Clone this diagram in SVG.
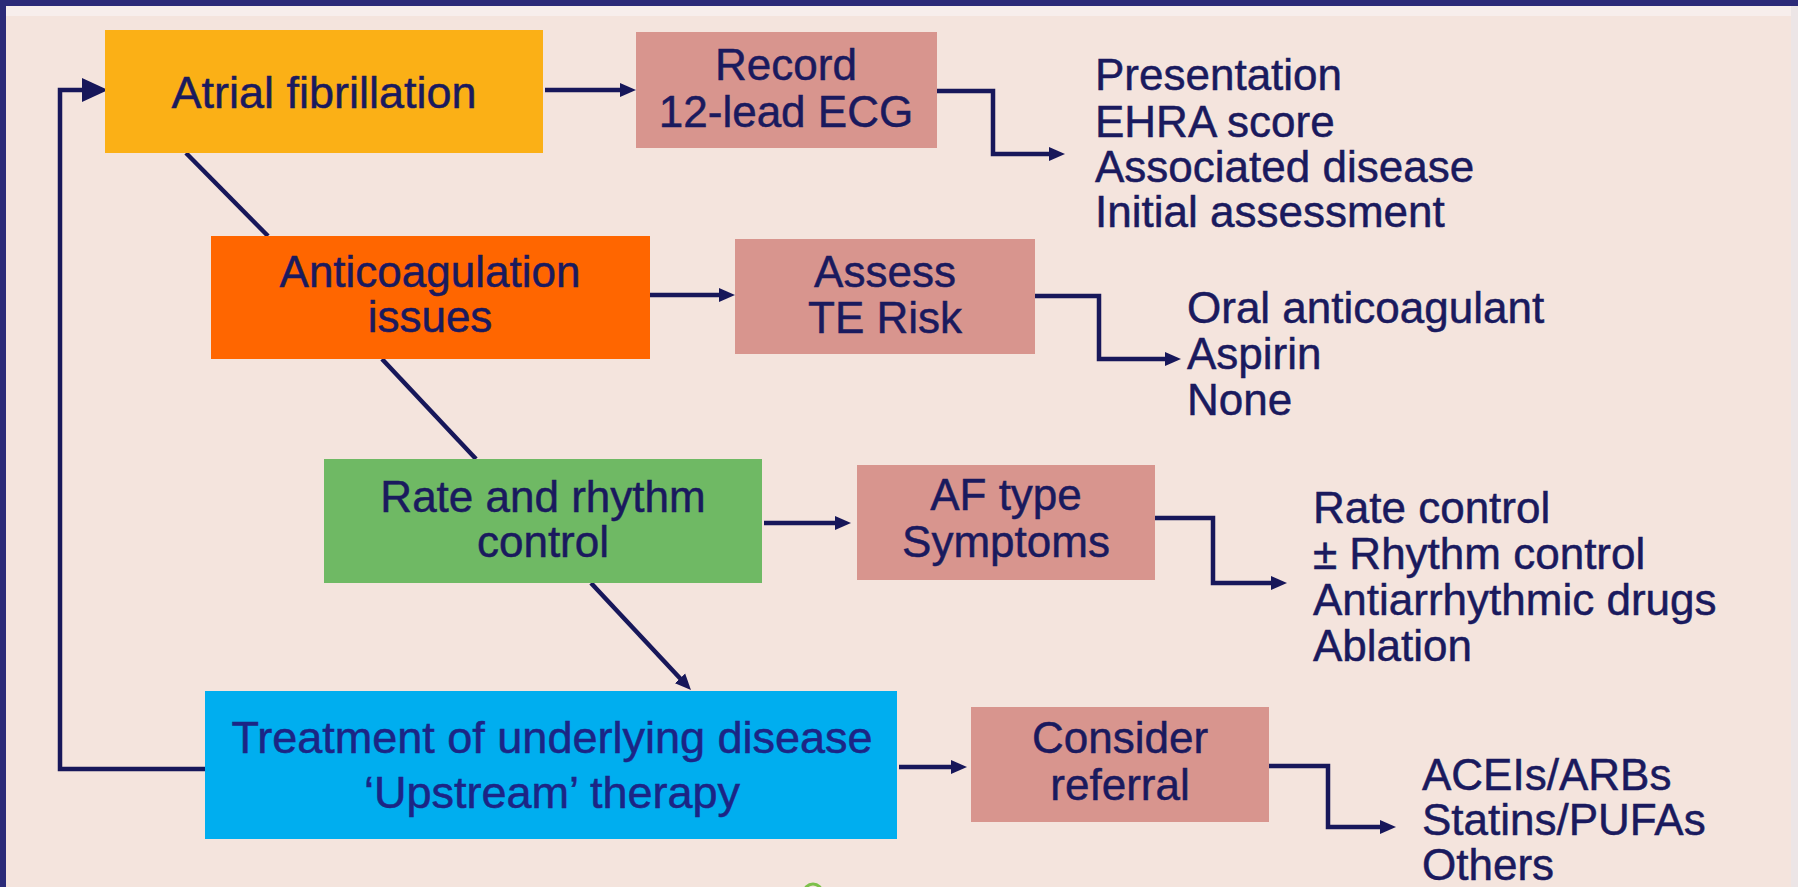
<svg xmlns="http://www.w3.org/2000/svg" width="1798" height="887" viewBox="0 0 1798 887">
<style>
.t{font-family:"Liberation Sans",Arial,sans-serif;font-size:44px;fill:#1a1a5e;stroke:#1a1a5e;stroke-width:0.5}
.c{text-anchor:middle}
.l{font-size:44px}
.blue{fill:#1c2585;stroke:#1c2585}
.ln{fill:none;stroke:#17175a;stroke-width:4.5}
</style>
<defs>
<marker id="ah" markerUnits="userSpaceOnUse" markerWidth="16" markerHeight="16" viewBox="0 0 16 16" refX="2" refY="8" orient="auto"><path d="M0,1 L16,8 L0,15 z" fill="#17175a"/></marker>
<marker id="ahb" markerUnits="userSpaceOnUse" markerWidth="26" markerHeight="26" viewBox="0 0 26 26" refX="2" refY="13" orient="auto"><path d="M0,1 L26,13 L0,25 z" fill="#17175a"/></marker>
</defs>
<rect x="0" y="0" width="1798" height="887" fill="#f4e4dd"/>
<rect x="6" y="6" width="1792" height="10" fill="#f7eeec"/>
<rect x="1791" y="6" width="7" height="881" fill="#ece5e6"/>
<rect x="0" y="0" width="1798" height="6" fill="#2b2a78"/>
<rect x="0" y="0" width="6" height="887" fill="#2b2a78"/>

<g id="connectors">
<path class="ln" d="M545,90 H622" marker-end="url(#ah)"/>
<path class="ln" d="M937,91 H993 V154 H1051" marker-end="url(#ah)"/>
<path class="ln" d="M650,295 H721" marker-end="url(#ah)"/>
<path class="ln" d="M1035,296 H1099 V359 H1167" marker-end="url(#ah)"/>
<path class="ln" d="M764,523 H837" marker-end="url(#ah)"/>
<path class="ln" d="M1155,518 H1213 V583 H1273" marker-end="url(#ah)"/>
<path class="ln" d="M899,767 H953" marker-end="url(#ah)"/>
<path class="ln" d="M1269,766 H1328 V827 H1382" marker-end="url(#ah)"/>
<path class="ln" d="M186,153 L268,236"/>
<path class="ln" d="M382,359 L476,459"/>
<path class="ln" d="M591,583 L681.4,679.8" marker-end="url(#ah)"/>
<path class="ln" d="M215,769 H60 V90 H84" marker-end="url(#ahb)"/>
</g>

<g id="atrial-fibrillation">
<rect x="105" y="30" width="438" height="123" fill="#fbb016"/>
<text class="t c" x="324" y="108" style="font-size:45px">Atrial fibrillation</text>
</g>
<g id="record-ecg">
<rect x="636" y="32" width="301" height="116" fill="#d8958e"/>
<text class="t c" x="786" y="80">Record</text>
<text class="t c" x="786" y="127">12-lead ECG</text>
</g>
<g id="ecg-outcomes">
<text class="t l" x="1095" y="90">Presentation</text>
<text class="t l" x="1095" y="137">EHRA score</text>
<text class="t l" x="1095" y="182">Associated disease</text>
<text class="t l" x="1095" y="227">Initial assessment</text>
</g>

<g id="anticoagulation">
<rect x="211" y="236" width="439" height="123" fill="#ff6600"/>
<text class="t c" x="430" y="287">Anticoagulation</text>
<text class="t c" x="430" y="332">issues</text>
</g>
<g id="assess-te-risk">
<rect x="735" y="239" width="300" height="115" fill="#d8958e"/>
<text class="t c" x="885" y="287">Assess</text>
<text class="t c" x="885" y="333">TE Risk</text>
</g>
<g id="te-outcomes">
<text class="t l" x="1187" y="323">Oral anticoagulant</text>
<text class="t l" x="1187" y="369">Aspirin</text>
<text class="t l" x="1187" y="415">None</text>
</g>

<g id="rate-rhythm">
<rect x="324" y="459" width="438" height="124" fill="#6fb964"/>
<text class="t c" x="543" y="512">Rate and rhythm</text>
<text class="t c" x="543" y="557">control</text>
</g>
<g id="af-type">
<rect x="857" y="465" width="298" height="115" fill="#d8958e"/>
<text class="t c" x="1006" y="510">AF type</text>
<text class="t c" x="1006" y="557">Symptoms</text>
</g>
<g id="rate-outcomes">
<text class="t l" x="1313" y="523">Rate control</text>
<text class="t l" x="1313" y="569">± Rhythm control</text>
<text class="t l" x="1313" y="615">Antiarrhythmic drugs</text>
<text class="t l" x="1313" y="661">Ablation</text>
</g>

<g id="treatment">
<rect x="205" y="691" width="692" height="148" fill="#00aeef"/>
<text class="t c blue" x="552" y="753" style="font-size:45px">Treatment of underlying disease</text>
<text class="t c blue" x="552" y="808" style="font-size:45px">‘Upstream’ therapy</text>
</g>
<g id="consider-referral">
<rect x="971" y="707" width="298" height="115" fill="#d8958e"/>
<text class="t c" x="1120" y="753">Consider</text>
<text class="t c" x="1120" y="800">referral</text>
</g>
<g id="upstream-outcomes">
<text class="t l" x="1422" y="790">ACEIs/ARBs</text>
<text class="t l" x="1422" y="835">Statins/PUFAs</text>
<text class="t l" x="1422" y="880">Others</text>
</g>
<circle cx="813" cy="893" r="9" fill="none" stroke="#7cc04a" stroke-width="3"/>
</svg>
